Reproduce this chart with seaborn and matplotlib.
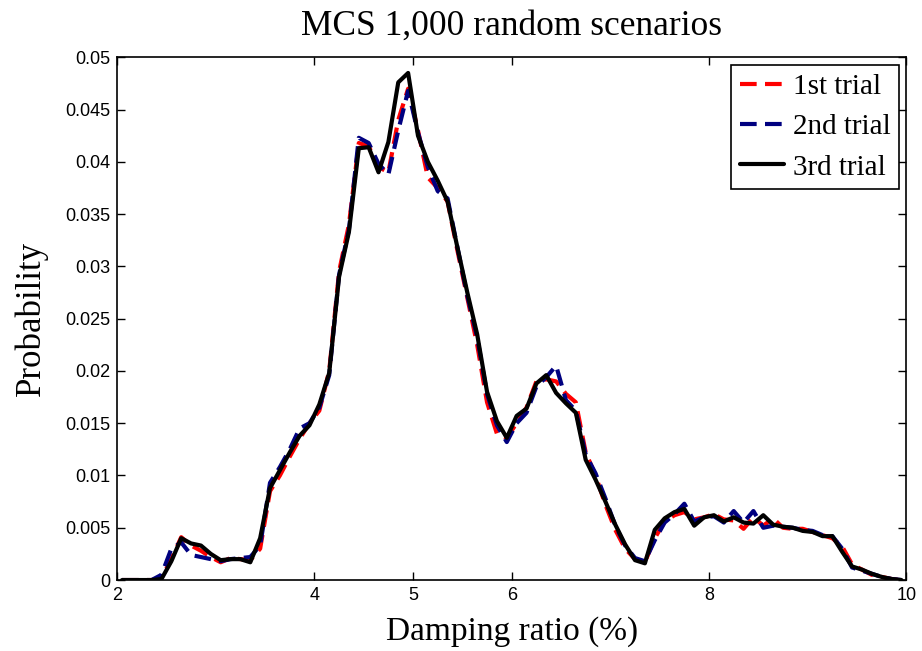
import numpy as np
import pandas as pd
import matplotlib
matplotlib.use("Agg")
import matplotlib.pyplot as plt
import seaborn as sns

# Bin centres of the damping ratio (%) axis
damping = [2.05, 2.15, 2.25, 2.35, 2.45, 2.55, 2.65, 2.75, 2.85, 2.95,
           3.05, 3.15, 3.25, 3.35, 3.45, 3.55, 3.65, 3.75, 3.85, 3.95,
           4.05, 4.15, 4.25, 4.35, 4.45, 4.55, 4.65, 4.75, 4.85, 4.95,
           5.05, 5.15, 5.25, 5.35, 5.45, 5.55, 5.65, 5.75, 5.85, 5.95,
           6.05, 6.15, 6.25, 6.35, 6.45, 6.55, 6.65, 6.75, 6.85, 6.95,
           7.05, 7.15, 7.25, 7.35, 7.45, 7.55, 7.65, 7.75, 7.85, 7.95,
           8.05, 8.15, 8.25, 8.35, 8.45, 8.55, 8.65, 8.75, 8.85, 8.95,
           9.05, 9.15, 9.25, 9.35, 9.45, 9.55, 9.65, 9.75, 9.85, 9.95]

trial1 = [0, 0, 0, 0, 0.0002, 0.0020, 0.0041, 0.0033, 0.0028, 0.0022,
          0.0017, 0.0021, 0.0020, 0.0019, 0.0030, 0.0085, 0.0100, 0.0118, 0.0135, 0.0150,
          0.0162, 0.0200, 0.0295, 0.0340, 0.0418, 0.0415, 0.0395, 0.0390, 0.0440, 0.0470,
          0.0430, 0.0385, 0.0375, 0.0362, 0.0315, 0.0270, 0.0225, 0.0170, 0.0140, 0.0136,
          0.0150, 0.0165, 0.0190, 0.0192, 0.0190, 0.0178, 0.0170, 0.0122, 0.0100, 0.0072,
          0.0048, 0.0030, 0.0020, 0.0017, 0.0040, 0.0056, 0.0062, 0.0065, 0.0058, 0.0060,
          0.0063, 0.0058, 0.0057, 0.0049, 0.0060, 0.0052, 0.0059, 0.0050, 0.0049, 0.0049,
          0.0046, 0.0043, 0.0040, 0.0032, 0.0015, 0.0010, 0.0005, 0.0003, 0.0001, 0]

trial2 = [0, 0, 0, 0, 0.0005, 0.0030, 0.0036, 0.0024, 0.0022, 0.0020,
          0.0018, 0.0020, 0.0021, 0.0022, 0.0033, 0.0093, 0.0108, 0.0125, 0.0145, 0.0150,
          0.0165, 0.0196, 0.0292, 0.0335, 0.0423, 0.0418, 0.0398, 0.0388, 0.0430, 0.0468,
          0.0428, 0.0395, 0.0372, 0.0365, 0.0318, 0.0272, 0.0232, 0.0178, 0.0148, 0.0132,
          0.0150, 0.0160, 0.0185, 0.0194, 0.0205, 0.0172, 0.0162, 0.0120, 0.0102, 0.0078,
          0.0052, 0.0033, 0.0021, 0.0018, 0.0038, 0.0055, 0.0063, 0.0073, 0.0056, 0.0060,
          0.0061, 0.0055, 0.0066, 0.0055, 0.0066, 0.0050, 0.0052, 0.0051, 0.0050, 0.0048,
          0.0047, 0.0043, 0.0042, 0.0030, 0.0012, 0.0009, 0.0006, 0.0003, 0.0001, 0]

trial3 = [0, 0, 0, 0, 0.0001, 0.0018, 0.0040, 0.0035, 0.0033, 0.0025,
          0.0019, 0.0020, 0.0020, 0.0017, 0.0040, 0.0088, 0.0105, 0.0122, 0.0138, 0.0148,
          0.0168, 0.0198, 0.0290, 0.0333, 0.0413, 0.0414, 0.0390, 0.0419, 0.0476, 0.0485,
          0.0425, 0.0400, 0.0382, 0.0362, 0.0318, 0.0275, 0.0235, 0.0180, 0.0152, 0.0136,
          0.0157, 0.0164, 0.0188, 0.0196, 0.0179, 0.0169, 0.0160, 0.0115, 0.0096, 0.0075,
          0.0053, 0.0034, 0.0019, 0.0016, 0.0048, 0.0059, 0.0065, 0.0068, 0.0052, 0.0060,
          0.0062, 0.0056, 0.0060, 0.0055, 0.0054, 0.0062, 0.0053, 0.0051, 0.0050, 0.0047,
          0.0046, 0.0042, 0.0042, 0.0027, 0.0013, 0.0010, 0.0006, 0.0003, 0.0001, 0]

labels = ["1st trial", "2nd trial", "3rd trial"]
colors = ["#FF0000", "#000080", "#000000"]

x_ticks = [2, 4, 5, 6, 8, 10]
y_ticks = [0, 0.005, 0.01, 0.015, 0.02, 0.025, 0.03, 0.035, 0.04, 0.045, 0.05]
y_ticklabels = ["0", "0.005", "0.01", "0.015", "0.02", "0.025", "0.03",
                "0.035", "0.04", "0.045", "0.05"]

df = pd.DataFrame({
    "Damping ratio (%)": damping * 3,
    "Probability": trial1 + trial2 + trial3,
    "Trial": [labels[0]] * len(damping) + [labels[1]] * len(damping) + [labels[2]] * len(damping),
})

sns.set_style("ticks")
plt.rcParams["font.family"] = ["Liberation Sans", "DejaVu Sans"]
plt.rcParams["text.color"] = "black"
plt.rcParams["axes.labelcolor"] = "black"
plt.rcParams["xtick.color"] = "black"
plt.rcParams["ytick.color"] = "black"

fig = plt.figure(figsize=(9.22, 6.51), dpi=100)
ax = fig.add_axes([0.127, 0.109, 0.856, 0.803])

sns.lineplot(data=df, x="Damping ratio (%)", y="Probability", hue="Trial",
             style="Trial", hue_order=labels, style_order=labels,
             palette=dict(zip(labels, colors)),
             dashes={labels[0]: (4.0, 2.0), labels[1]: (4.0, 2.0), labels[2]: ""},
             linewidth=3.0, ax=ax, legend=False, sort=False)

ax.set_xlim(2, 10)
ax.set_ylim(0, 0.05)
ax.set_xticks(x_ticks)
ax.set_xticklabels([str(t) for t in x_ticks])
ax.set_yticks(y_ticks)
ax.set_yticklabels(y_ticklabels)
ax.tick_params(direction="in", length=6, width=1, top=True, right=True,
               labelsize=13, colors="black", pad=5)
for s in ax.spines.values():
    s.set_visible(True)
    s.set_linewidth(1.2)
    s.set_color("black")

serif = ["Liberation Serif", "DejaVu Serif"]
ax.set_xlabel("Damping ratio (%)", fontsize=24, family=serif, labelpad=9, color="black")
ax.set_ylabel("Probability", fontsize=25, family=serif, labelpad=12, color="black")
ax.set_title("MCS 1,000 random scenarios", fontsize=25.5, family=serif, pad=16, color="black")

handles = ax.get_lines()[:3]
leg = ax.legend(handles, labels, loc="upper right",
                prop={"family": serif, "size": 21},
                frameon=True, fancybox=False, edgecolor="black",
                handlelength=1.5, handletextpad=0.3, borderpad=0.3,
                labelspacing=0.48, borderaxespad=0.25, framealpha=1)
leg.get_frame().set_linewidth(1.2)
for t in leg.get_texts():
    t.set_color("black")

fig.savefig("out.png", dpi=100)
